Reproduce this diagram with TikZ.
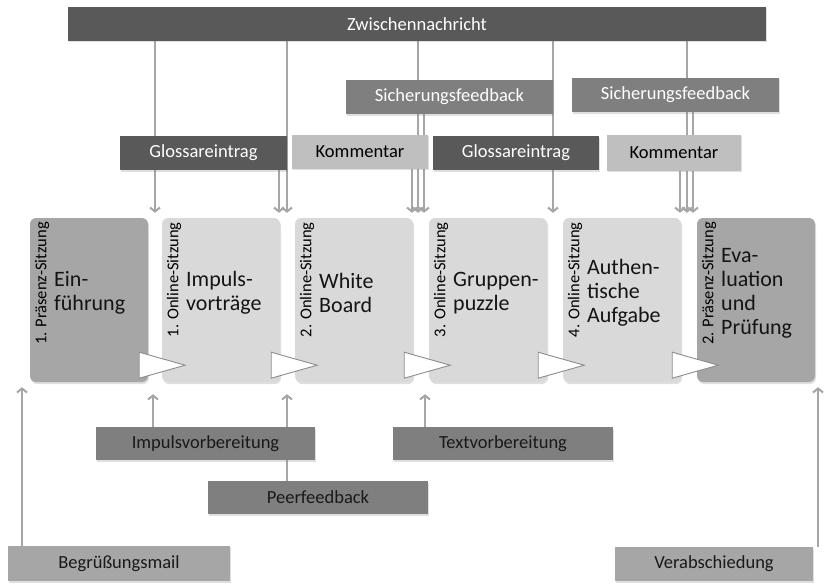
\documentclass[tikz,border=0pt]{standalone}
\usepackage{fontspec}
\setmainfont{Carlito}
\usetikzlibrary{arrows.meta,shadows,backgrounds}
\definecolor{dk}{HTML}{595959}
\definecolor{md}{HTML}{7F7F7F}
\definecolor{lt}{HTML}{BFBFBF}
\definecolor{bxd}{HTML}{A6A6A6}
\definecolor{bxl}{HTML}{D9D9D9}
\definecolor{arc}{HTML}{A6A6A6}
\definecolor{tric}{HTML}{8C8C8C}
\begin{document}
\begin{tikzpicture}[x=1pt,y=-1pt,
  bar/.style={rectangle, inner sep=0pt, minimum height=34pt,
    font=\fontsize{18.5}{20}\selectfont,
    drop shadow={shadow xshift=1pt,shadow yshift=-1.5pt,opacity=0.25}},
  darkbar/.style={bar, fill=dk, text=white},
  midbar/.style={bar, fill=md, text=white},
  lightbar/.style={bar, fill=lt, text=black},
  lowbar/.style={bar, fill=md, text=black!90},
  palebar/.style={bar, fill=bxd, text=black!90},
  sess/.style={rectangle, rounded corners=6pt, minimum width=118pt, minimum height=164pt,
    inner sep=0pt, drop shadow={shadow xshift=1pt,shadow yshift=-2pt,opacity=0.25}},
  sessdark/.style={sess, fill=bxd},
  sesslight/.style={sess, fill=bxl},
  vlab/.style={rotate=90, anchor=east, inner sep=0pt, font=\fontsize{16.5}{18}\selectfont},
  mtext/.style={anchor=west, align=left, inner sep=0pt, text=black!92, font=\fontsize{22}{24}\selectfont},
  arr/.style={draw=arc, line width=2pt, -{Straight Barb[length=4pt,width=10pt]}},
  tri/.style={fill=white, draw=tric, line width=0.9pt, line join=miter}
]
\useasboundingbox (0,0) rectangle (826,583);

% top bars
\node[darkbar, minimum width=698pt] (zw) at (417,24) {Zwischennachricht};
\node[midbar, minimum width=207pt] (sf1) at (449.5,97) {Sicherungsfeedback};
\node[midbar, minimum width=207pt] (sf2) at (675.5,95) {Sicherungsfeedback};
\node[darkbar, minimum width=167pt] (gl1) at (203.5,153) {Glossareintrag};
\node[lightbar, minimum width=136pt] (ko1) at (360,151.5) {Kommentar};
\node[darkbar, minimum width=166pt] (gl2) at (516,153) {Glossareintrag};
\node[lightbar, minimum width=134pt, minimum height=36pt] (ko2) at (674,152.5) {Kommentar};

% sessions
\node[sessdark] (b1) at (89,300) {};
\node[sesslight] (b2) at (221,300) {};
\node[sesslight] (b3) at (354,300) {};
\node[sesslight] (b4) at (488,300) {};
\node[sesslight] (b5) at (622,300) {};
\node[sessdark] (b6) at (756,300) {};

% vertical labels
\node[vlab] (v1) at (42,222) {1. Präsenz-Sitzung};
\node[vlab] (v2) at (174,222) {1. Online-Sitzung};
\node[vlab] (v3) at (307,222) {2. Online-Sitzung};
\node[vlab] (v4) at (441,222) {3. Online-Sitzung};
\node[vlab] (v5) at (575,222) {4. Online-Sitzung};
\node[vlab] (v6) at (709,222) {2. Präsenz-Sitzung};

% main texts
\node[mtext] (t1) at (54,293) {Ein-\\führung};
\node[mtext] (t2) at (186,293) {Impuls-\\vorträge};
\node[mtext] (t3) at (319,293) {White\\Board};
\node[mtext] (t4) at (453,293) {Gruppen-\\puzzle};
\node[mtext] (t5) at (587,293) {Authen-\\tische\\Aufgabe};
\node[mtext] (t6) at (721,293) {Eva-\\luation\\und\\Prüfung};

% triangles
\foreach \b in {b1,b2,b3,b4,b5}{
  \draw[tri] (\b.south east) ++(-9,-4) -- ++(46,-13) -- ++(-46,-13) -- cycle;
}

% bottom bars
\node[lowbar, minimum width=219pt, minimum height=33pt] (imp) at (205.5,443.5) {Impulsvorbereitung};
\node[lowbar, minimum width=220pt, minimum height=33pt] (peer) at (318,497.5) {Peerfeedback};
\node[lowbar, minimum width=220pt, minimum height=33pt] (txt) at (503,443.5) {Textvorbereitung};
\node[palebar, minimum width=222pt, minimum height=35pt] (beg) at (119,563.5) {Begrüßungsmail};
\node[palebar, minimum width=198pt, minimum height=34pt] (ver) at (714,564) {Verabschiedung};

% connectors
\begin{scope}[on background layer]
\draw[arr, shorten >=5pt] (155,0 |- zw.south) -- (155,0 |- b1.north);
\draw[arr, shorten >=5pt] (279,0 |- gl1.south) -- (279,0 |- b2.north);
\draw[arr, shorten >=5pt] (287,0 |- zw.south) -- (287,0 |- b2.north);
\draw[arr, shorten >=5pt] (412,0 |- ko1.south) -- (412,0 |- b3.north);
\draw[arr, shorten >=5pt] (418,0 |- zw.south) -- (418,0 |- b3.north);
\draw[arr, shorten >=5pt] (424,0 |- sf1.south) -- (424,0 |- b3.north);
\draw[arr, shorten >=5pt] (553,0 |- zw.south) -- (553,0 |- b4.north);
\draw[arr, shorten >=5pt] (680,0 |- ko2.south) -- (680,0 |- b5.north);
\draw[arr, shorten >=5pt] (687,0 |- zw.south) -- (687,0 |- b5.north);
\draw[arr, shorten >=5pt] (693,0 |- sf2.south) -- (693,0 |- b5.north);

\draw[arr, shorten >=5pt] (22,0 |- beg.north) -- (22,0 |- b1.south);
\draw[arr, shorten >=12pt] (153,0 |- imp.north) -- (153,0 |- b2.south);
\draw[arr, shorten >=12pt] (287,0 |- peer.north) -- (287,0 |- b2.south);
\draw[arr, shorten >=12pt] (425,0 |- txt.north) -- (425,0 |- b4.south);
\draw[arr, shorten >=5pt] (818,0 |- ver.north) -- (818,0 |- b6.south);
\end{scope}
\end{tikzpicture}
\end{document}
